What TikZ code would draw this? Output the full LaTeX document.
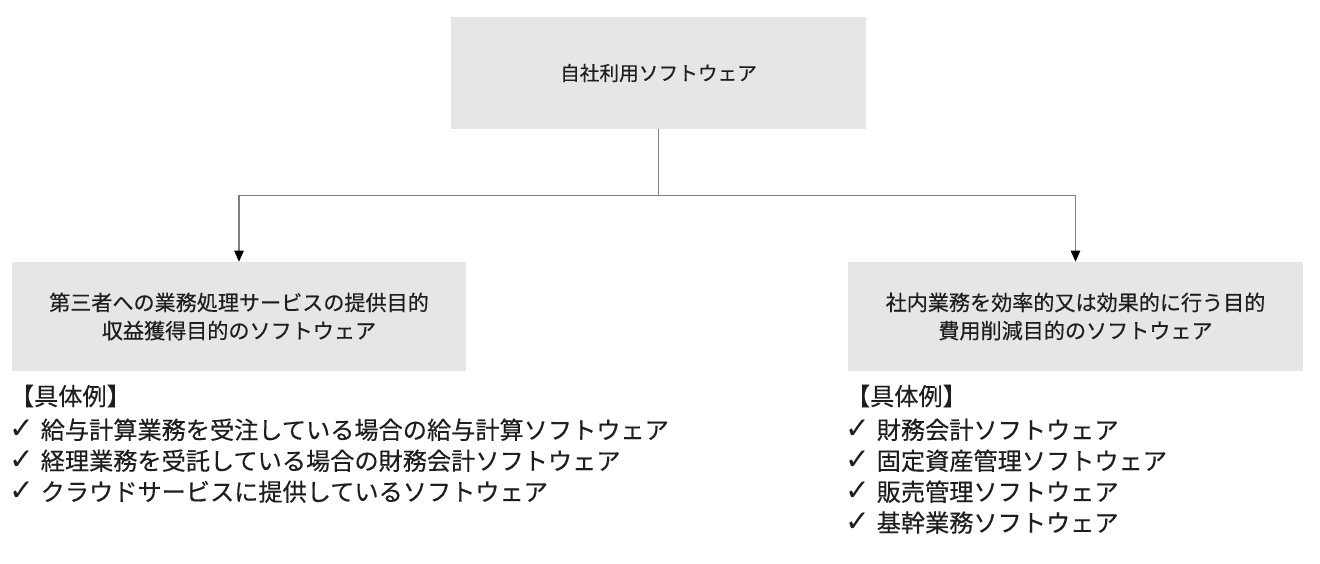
\documentclass[tikz,border=0pt]{standalone}
\usepackage{fontspec}
\setmainfont{Noto Sans CJK JP}[FakeBold=0.35]
\newfontfamily\symfont{DejaVu Sans}
\usepackage{xcolor}
\usepackage{tikz}
\usetikzlibrary{positioning,arrows.meta,calc}
\definecolor{boxfill}{RGB}{230,230,230}
\definecolor{linegray}{RGB}{128,128,128}
\definecolor{inkgray}{RGB}{30,30,30}
\tikzset{
  box/.style   = {fill=boxfill, text=inkgray, align=center, inner sep=0pt, font=\fontsize{15}{20}\selectfont},
  list/.style  = {text=inkgray, align=left, inner sep=0pt, anchor=north west, font=\fontsize{17.2}{22}\selectfont},
  conn/.style  = {draw=linegray, line width=0.9pt},
  flow/.style  = {conn, -{Triangle[length=2.8mm, width=2.4mm, color=black]}},
}
\newcommand{\chk}{\smash{\symfont\fontsize{21}{22}\selectfont ✓}\hspace{0.25em}}

\begin{document}
\begin{tikzpicture}[x=0.025cm, y=-0.025cm]
  \useasboundingbox (0,0) rectangle (1320,564);
  \node[box, minimum width=10.375cm, minimum height=2.8cm, font=\fontsize{14}{20}\selectfont] (top) at (658.5,73) {自社利用ソフトウェア};
  \node[box, minimum width=11.35cm, minimum height=2.725cm] (left) at (239,316.5)
    {第三者への業務処理サービスの提供目的\\収益獲得目的のソフトウェア};
  \node[box, minimum width=11.375cm, minimum height=2.725cm] (right) at (1075.5,316.5)
    {社内業務を効率的又は効果的に行う目的\\費用削減目的のソフトウェア};
  \coordinate (split) at ($(top.south)+(0,66)$);
  \draw[conn] (top.south) -- (split);
  \draw[flow] (split) -| (left.north);
  \draw[flow] (split) -| (right.north);
  \node[list] (leftlist) at ([xshift=-0.5mm, yshift=-3.3mm]left.south west) {
    【具体例】\\[2pt]
    \chk 給与計算業務を受注している場合の給与計算ソフトウェア\\
    \chk 経理業務を受託している場合の財務会計ソフトウェア\\
    \chk クラウドサービスに提供しているソフトウェア
  };
  \node[list] (rightlist) at ([xshift=-0.5mm, yshift=-3.3mm]right.south west) {
    【具体例】\\[2pt]
    \chk 財務会計ソフトウェア\\
    \chk 固定資産管理ソフトウェア\\
    \chk 販売管理ソフトウェア\\
    \chk 基幹業務ソフトウェア
  };
\end{tikzpicture}
\end{document}
